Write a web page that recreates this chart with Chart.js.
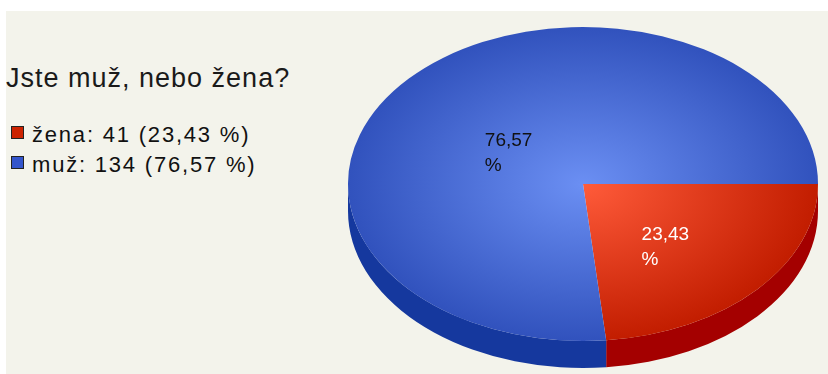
<!DOCTYPE html>
<html>
<head>
<meta charset="utf-8">
<script src="https://cdn.jsdelivr.net/npm/chart.js@4.4.0/dist/chart.umd.min.js"></script>
<style>
    html, body { margin: 0; padding: 0; background: #ffffff; }
    #wrap { position: relative; width: 828px; height: 374px; overflow: hidden; }
    #panel { position: absolute; left: 6px; top: 11px; right: 0; bottom: 0; background: #f3f3eb; }
    #chart { position: absolute; left: 0; top: 0; }
    #title {
        position: absolute; left: 6px; top: 65px;
        font-family: "Liberation Sans", Arial, sans-serif; font-size: 27px;
        line-height: 27px; letter-spacing: 1px; color: #1a1a1a; white-space: nowrap;
    }
    #legend {
        position: absolute; left: 11px; top: 120px;
        font-family: "Liberation Sans", Arial, sans-serif; font-size: 22px;
        line-height: 30px; letter-spacing: 1.8px; color: #111111; white-space: nowrap;
    }
    #legend .row { position: relative; padding-left: 21px; height: 30px; }
    #legend .box {
        position: absolute; left: 0; top: 6px; width: 11px; height: 11px;
        border: 1px solid #222;
    }
</style>
</head>
<body>
<div id="wrap">
    <div id="panel"></div>
    <div id="title"></div>
    <div id="legend"></div>
    <canvas id="chart" width="828" height="374"></canvas>
</div>
<script>
const title = "Jste muž, nebo žena?";
const categories = ["žena", "muž"];
const counts = [41, 134];
const legendColors = ["#cc2200", "#3355cc"];
const lightColors = ["#ff5b3a", "#6b8ff3"];
const darkColors = ["#c21d00", "#3152bd"];
const sideColors = ["#a40000", "#15389e"];
const labelColors = ["#ffffff", "#111111"];

const total = counts.reduce((a, b) => a + b, 0);
const squash = 157 / 235;
const depth = 27;

function pct(v) {
    return (v / total * 100).toFixed(2).replace(".", ",");
}

/* TITLE + LEGEND */
document.getElementById("title").textContent = title;
const legend = document.getElementById("legend");
categories.forEach((cat, i) => {
    const row = document.createElement("div");
    row.className = "row";
    row.innerHTML = `<span class="box" style="background:${legendColors[i]}"></span>` +
        `${cat}: ${counts[i]} (${pct(counts[i])} %)`;
    legend.appendChild(row);
});

/* GRADIENT FILL */
function sliceFill(context) {
    const chart = context.chart;
    const area = chart.chartArea;
    const i = context.dataIndex;
    if (!area) return darkColors[i];
    const cx = (area.left + area.right) / 2;
    const cy = (area.top + area.bottom) / 2;
    const g = chart.ctx.createRadialGradient(cx, cy, 0, cx, cy, 235);
    g.addColorStop(0, lightColors[i]);
    g.addColorStop(1, darkColors[i]);
    return g;
}

/* 3D PIE PLUGIN */
const tiltPlugin = {
    id: "tilt",
    beforeDatasetsDraw(chart) {
        const ctx = chart.ctx;
        const arcs = chart.getDatasetMeta(0).data;
        // side walls, only the front half is visible
        arcs.forEach((arc, i) => {
            const p = arc.getProps(["x", "y", "startAngle", "endAngle", "outerRadius"]);
            const ranges = [[0, Math.PI], [2 * Math.PI, 3 * Math.PI]];
            ranges.forEach(([lo, hi]) => {
                const a0 = Math.max(p.startAngle, lo);
                const a1 = Math.min(p.endAngle, hi);
                if (a1 <= a0) return;
                const r = p.outerRadius;
                ctx.beginPath();
                ctx.ellipse(p.x, p.y + depth, r, r * squash, 0, a0, a1);
                ctx.ellipse(p.x, p.y, r, r * squash, 0, a1, a0, true);
                ctx.closePath();
                ctx.fillStyle = sideColors[i];
                ctx.fill();
            });
        });
        const c = arcs[0];
        ctx.save();
        ctx.translate(c.x, c.y);
        ctx.scale(1, squash);
        ctx.translate(-c.x, -c.y);
    },
    afterDatasetsDraw(chart) {
        const ctx = chart.ctx;
        ctx.restore();
        // percent labels
        const arcs = chart.getDatasetMeta(0).data;
        ctx.save();
        ctx.font = "19px 'Liberation Sans', Arial, sans-serif";
        ctx.textBaseline = "alphabetic";
        ctx.textAlign = "left";
        arcs.forEach((arc, i) => {
            const p = arc.getProps(["x", "y", "startAngle", "endAngle", "outerRadius"]);
            const mid = (p.startAngle + p.endAngle) / 2;
            const ax = p.x + Math.cos(mid) * p.outerRadius * 0.45 + 4;
            const ay = p.y + Math.sin(mid) * p.outerRadius * squash * 0.45 + 14;
            const txt = pct(counts[i]);
            const w = ctx.measureText(txt).width;
            ctx.fillStyle = labelColors[i];
            ctx.fillText(txt, ax - w / 2, ay - 5);
            ctx.fillText("%", ax - w / 2, ay + 20);
        });
        ctx.restore();
    }
};

new Chart(document.getElementById("chart"), {
    type: "pie",
    data: {
        labels: categories,
        datasets: [{
            data: counts,
            backgroundColor: sliceFill,
            borderWidth: 0,
            clip: false
        }]
    },
    options: {
        responsive: false,
        animation: false,
        events: [],
        rotation: 90,
        radius: 235,
        layout: { padding: { left: 348, right: 10, top: 27, bottom: 33 } },
        plugins: {
            legend: { display: false },
            tooltip: { enabled: false }
        }
    },
    plugins: [tiltPlugin]
});
</script>
</body>
</html>
